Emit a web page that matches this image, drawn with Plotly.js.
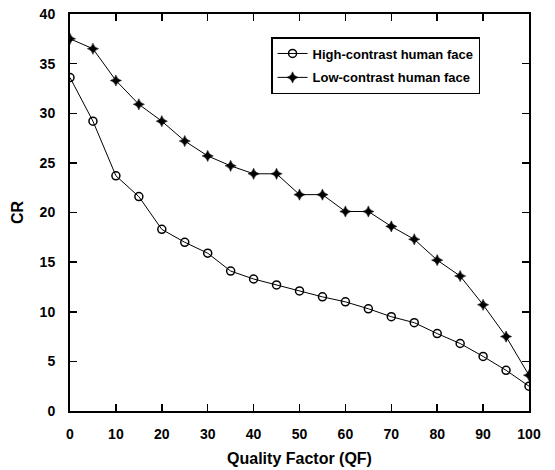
<!DOCTYPE html>
<html>
<head>
<meta charset="utf-8">
<script src="https://cdn.plot.ly/plotly-3.0.1.min.js"></script>
<style>html,body{margin:0;padding:0;background:#fff;}#chart{width:555px;height:470px;}</style>
</head>
<body>
<div id="chart"></div>
<script>
const qf = [0,5,10,15,20,25,30,35,40,45,50,55,60,65,70,75,80,85,90,95,100];
const highContrast = [33.6,29.2,23.7,21.6,18.3,17.0,15.9,14.1,13.3,12.7,12.1,11.5,11.0,10.3,9.5,8.9,7.8,6.8,5.5,4.1,2.5];
const lowContrast = [37.5,36.5,33.3,30.9,29.2,27.2,25.7,24.7,23.9,23.9,21.8,21.8,20.1,20.1,18.6,17.3,15.2,13.6,10.7,7.5,3.6];
const seriesNames = ["High-contrast human face","Low-contrast human face"];
const xTicks = [0,10,20,30,40,50,60,70,80,90,100];
const yTicks = [0,5,10,15,20,25,30,35,40];

const FONT = "Liberation Sans, Arial, sans-serif";
const traces = [
  {x: qf, y: highContrast, name: seriesNames[0], type: "scatter", mode: "lines+markers",
   legendgroup: "a",
   line: {color: "#000", width: 1},
   marker: {symbol: "circle-open", size: 8, color: "#000", line: {width: 1.5, color: "#000"}}},
  {x: qf, y: lowContrast, name: seriesNames[1], type: "scatter", mode: "lines+markers",
   legendgroup: "b",
   line: {color: "#000", width: 1},
   marker: {symbol: "star-diamond", size: 8, color: "#000", line: {width: 0.5, color: "#000"}}}
];
const axisCommon = {
  showgrid: false, zeroline: false, showline: true, linecolor: "#000", linewidth: 2,
  mirror: "ticks", ticks: "inside", ticklen: 7, tickwidth: 1.5, tickcolor: "#000",
  tickfont: {family: FONT, size: 14, color: "#000", weight: "bold"}
};
const layout = {
  width: 555, height: 470,
  margin: {l: 70, r: 26, t: 14, b: 59},
  paper_bgcolor: "#fff", plot_bgcolor: "#fff",
  showlegend: true,
  legend: {x: 0.438, y: 0.942, xanchor: "left", yanchor: "top",
    traceorder: "grouped", tracegroupgap: 4,
    bordercolor: "#000", borderwidth: 1.5, bgcolor: "#fff",
    font: {family: FONT, size: 13, color: "#000", weight: "bold"}},
  xaxis: Object.assign({}, axisCommon, {range: [0, 100], tickvals: xTicks, ticktext: xTicks.map(String),
    ticklabelstandoff: 9,
    title: {text: "Quality Factor (QF)", standoff: 12, font: {family: FONT, size: 16, color: "#000", weight: "bold"}}}),
  yaxis: Object.assign({}, axisCommon, {range: [0, 40], tickvals: yTicks, ticktext: yTicks.map(String),
    ticklabelstandoff: 10,
    title: {text: "CR", standoff: 12, font: {family: FONT, size: 16, color: "#000", weight: "bold"}}})
};
Plotly.newPlot("chart", traces, layout, {displayModeBar: false, staticPlot: true});
</script>
</body>
</html>
